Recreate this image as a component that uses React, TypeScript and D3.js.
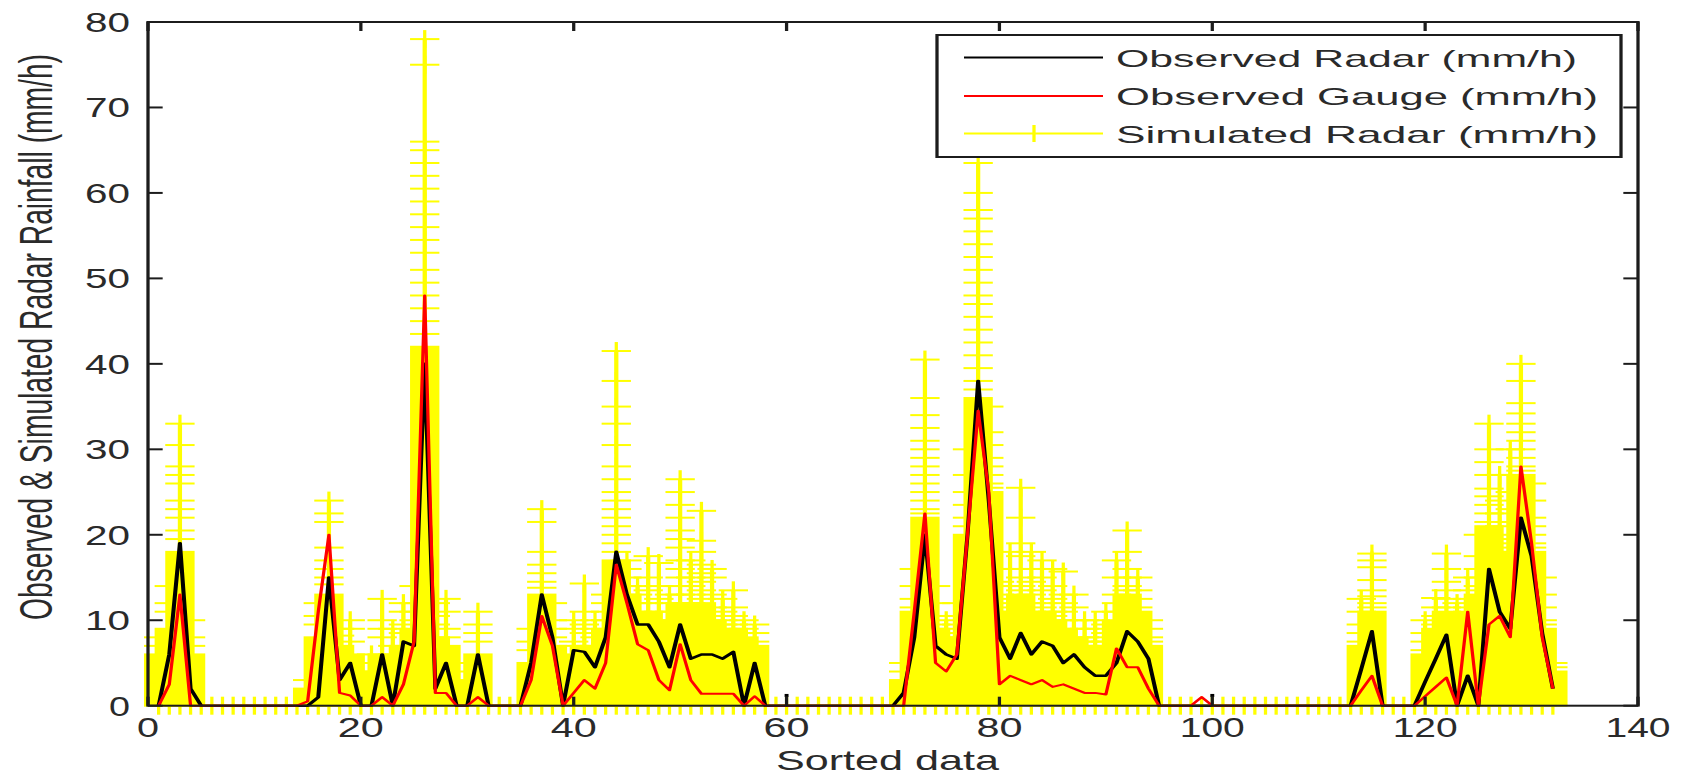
import React from 'react';
import * as d3 from 'd3';

const WIDTH = 1682;
const HEIGHT = 775;
// the reference figure is stretched horizontally
const SX = 1.63;

const xTickValues = [0, 20, 40, 60, 80, 100, 120, 140];
const yTickValues = [0, 10, 20, 30, 40, 50, 60, 70, 80];
const legendLabels = ['Observed Radar (mm/h)', 'Observed Gauge (mm/h)', 'Simulated Radar (mm/h)'];
const xTitle = 'Sorted data';
const yTitle = 'Observed & Simulated Radar Rainfall (mm/h)';

// Observed radar (black), x = 1..132
const radar = [
  0, 6, 19, 2, 0, 0, 0, 0, 0, 0,
  0, 0, 0, 0, 0, 1, 15, 3, 5, 0,
  0, 6, 0, 7.5, 7, 40, 2, 5, 0, 0,
  6, 0, 0, 0, 0, 5, 13, 8, 0, 6.5,
  6.3, 4.5, 8, 18, 13, 9.5, 9.5, 7.5, 4.5, 9.5,
  5.5, 6, 6, 5.5, 6.3, 0, 5, 0, 0, 0,
  0, 0, 0, 0, 0, 0, 0, 0, 0, 0,
  1.5, 8, 20, 7, 6, 5.5, 20, 38, 24, 8,
  5.5, 8.5, 6, 7.5, 7, 5, 6, 4.5, 3.5, 3.5,
  5, 8.7, 7.5, 5.5, 0, 0, 0, 0, 0, 0,
  0, 0, 0, 0, 0, 0, 0, 0, 0, 0,
  0, 0, 0, 4.3, 8.7, 0, 0, 0, 0, 2.8,
  5.5, 8.3, 0, 3.5, 0, 16, 11, 9, 22, 17.5,
  8.5, 2,
];

// Observed gauge (red), x = 1..132
const gauge = [
  0, 2.5, 13, 0, 0, 0, 0, 0, 0, 0,
  0, 0, 0, 0, 0.5, 11, 20, 1.5, 1.2, 0,
  0, 1, 0, 2.5, 7.5, 48, 1.5, 1.5, 0, 0,
  1, 0, 0, 0, 0, 3, 10.5, 7, 0, 1.5,
  3, 2, 5, 16.5, 12, 7.2, 6.5, 3, 1.8, 7.2,
  3, 1.4, 1.4, 1.4, 1.4, 0, 1.1, 0, 0, 0,
  0, 0, 0, 0, 0, 0, 0, 0, 0, 0,
  0, 11, 22.5, 5, 4, 6, 20, 34.5, 25, 2.5,
  3.5, 3, 2.5, 3, 2.2, 2.5, 2, 1.5, 1.5, 1.3,
  6.7, 4.5, 4.5, 2, 0, 0, 0, 0, 1, 0,
  0, 0, 0, 0, 0, 0, 0, 0, 0, 0,
  0, 0, 0, 1.8, 3.5, 0, 0, 0, 0, 1.1,
  2.2, 3.3, 0, 11, 0, 9.5, 10.5, 8, 28, 19,
  8, 2,
];

// isolated radar points [x, value]
const radarIsolated = [[60, 1.2], [100, 1.2]];

// Simulated radar ensemble: top of the dense (solid) part per x
const simBand = [
  6, 9, 18, 6, 0, 0, 0, 0, 0, 0,
  0, 0, 0, 0, 2, 8, 13, 7, 6, 3,
  4, 6, 5, 7, 9, 42, 8, 7, 3, 0,
  6, 0, 0, 0, 0, 5, 13, 7, 2, 6,
  7, 7, 9, 17, 13, 11, 11, 10, 10, 12,
  12, 12, 10, 9, 9, 8, 7, 0, 0, 0,
  0, 0, 0, 0, 0, 0, 0, 0, 0, 0,
  3, 11, 22, 9, 7, 8, 20, 36, 25, 11,
  11, 13, 11, 11, 10, 9, 8, 7, 7, 7,
  10, 13, 11, 7, 0, 0, 0, 0, 0, 0,
  0, 0, 0, 0, 0, 0, 0, 0, 0, 0,
  0, 0, 0, 7, 11, 0, 0, 0, 0, 6,
  9, 11, 8, 11, 13, 21, 18, 18, 27, 18,
  9, 4,
];

// Simulated radar ensemble members standing out above the dense part, per x
const simUpper: number[][] = [
  [8, 7], [14, 12, 11], [33, 30.5, 28, 27, 26, 24, 23, 22, 20.5, 19.5], [10, 8, 7], [], [], [], [], [], [],
  [], [], [], [], [3], [12, 10.5, 9.5], [24, 22.5, 21.5, 18.5, 17, 16, 15, 14.2], [9, 8.2], [10, 9, 7.5], [5, 4],
  [6, 5], [12.5, 10, 9, 8], [9, 7, 6], [12, 11, 9.5, 8.5], [14, 12, 11, 10], [78, 75, 66, 65, 63.5, 62, 60.5, 59, 57.5, 56, 54.5, 53, 51, 49.5, 48, 46.5, 45, 43.5], [12, 10.5, 9.5], [12.5, 11, 9, 8], [5, 4], [],
  [11, 9.5, 8.5, 7.5], [], [], [], [], [9, 7.5, 6.5], [23, 21.5, 18, 16.5, 15.5, 14.5, 13.8], [12, 10, 9, 8], [4, 3], [10, 9, 7.5, 7],
  [14.3, 11, 9.5, 8.5], [10, 9, 8], [13, 12, 11, 10], [41.5, 38, 35, 33, 30.5, 28, 26.5, 25, 24, 23, 22, 21, 20, 19, 18], [17, 16, 15, 14], [14, 13, 12], [17.5, 15, 13.5, 12], [16.7, 14, 12.5, 11], [13, 12, 11], [26.5, 25, 23.5, 22, 20.5, 19.5, 18.5, 17, 16, 15, 14, 13],
  [17, 15, 14, 13], [22.8, 19.3, 18, 16.5, 15.5, 14.5, 13.5, 12.5], [16, 15, 13, 11.5, 10.5], [12.5, 11, 10, 9.5], [13.5, 11.5, 10.5, 9.5], [10, 9, 8.5], [9.5, 8.5, 7.5], [], [], [],
  [], [], [], [], [], [], [], [], [], [],
  [5, 4], [16, 14, 12.5, 11.5], [40.5, 36, 34, 32.5, 31, 30, 29, 28, 27, 26, 25, 24, 23, 22.5], [14, 12, 10.5, 9.5], [10, 9, 8], [12, 10.5, 9.5, 8.5], [30, 27, 25, 23.5, 22, 21], [63.5, 60, 58, 57, 55.5, 54, 52.5, 51, 49.5, 48, 47, 45.5, 44, 42.5, 41, 39.5, 38, 37], [35, 32, 30.5, 29, 28, 27, 26, 25.5], [16, 14.5, 13, 12],
  [18, 16, 14, 12.5, 11.5], [25.5, 22, 19, 17.5, 16, 15, 14, 13.5], [18, 16, 14.5, 13, 12], [17, 15, 13.5, 12, 11.5], [16, 14, 12.5, 11, 10.5], [15.7, 13, 12, 11, 10], [13, 11.5, 10, 9], [10, 9, 8, 7.5], [10, 9, 8, 7.5], [11, 9.5, 8.5, 7.5],
  [17, 15, 13, 12, 11], [20.5, 18, 16, 15, 14, 13.5], [15, 13.5, 12.5, 11.5], [10, 9, 8, 7.5], [], [], [], [], [], [],
  [], [], [], [], [], [], [], [], [], [],
  [], [], [], [12.5, 11, 9.5, 8.5, 7.5], [17.8, 17, 16.2, 14.7, 13.5, 12.8, 12, 11.5], [], [], [], [], [10, 8.5, 7.5, 6.5],
  [12.6, 11.5, 10.5, 9.5], [17.8, 16, 14.5, 13.5, 12.5, 11.5], [12, 10.5, 9.5, 8.5], [15, 13.5, 12.5, 11.5], [20, 17.5, 16, 15, 14], [33, 30, 28.5, 27, 25.4, 24.5, 23.5, 22.5, 21.5], [27, 24, 22.5, 21, 19.5, 18.5], [30, 27, 25, 23, 21.5, 20, 19], [40, 38, 35.4, 34.2, 33, 32, 31, 30, 29, 28, 27.5], [26, 24, 22, 21, 20, 19, 18.5],
  [15, 13, 11.5, 10, 9.5], [5, 4.5],
];

const YELLOW = '#ffff00';
const AXIS = '#1c1c1c';
const TEXT = '#2a2a2a';
const FONT = '"Liberation Sans", Arial, Helvetica, sans-serif';

export default function App() {
  const xs = d3.scaleLinear().domain([0, 140]).range([148 / SX, 1638 / SX]);
  const ys = d3.scaleLinear().domain([0, 80]).range([705.7, 22]);
  const MS = 9; // marker half size (pre-stretch units)

  const lineGen = d3
    .line<number>()
    .x((_, i) => xs(i + 1))
    .y((d) => ys(d));

  const xL = xs(0);
  const xR = xs(140);
  const yB = ys(0);
  const yT = ys(80);

  const digitW = (s: string) => (s.length === 1 ? 22 : s.length === 2 ? 46 : 65);

  const yellow: React.ReactNode[] = [];
  // dense bands
  simBand.forEach((b, i) => {
    const cx = xs(i + 1);
    if (b > 0) {
      yellow.push(
        <rect key={`b${i}`} x={cx - MS} y={ys(b) - 1} width={2 * MS} height={yB - ys(b) + 1} fill={YELLOW} />
      );
    }
  });
  // vertical member spread + markers
  simUpper.forEach((vals, i) => {
    const cx = xs(i + 1);
    const top = Math.max(simBand[i], ...(vals.length ? vals : [0]));
    if (top > 0) {
      yellow.push(
        <line key={`v${i}`} x1={cx} x2={cx} y1={yB} y2={ys(top)} stroke={YELLOW} strokeWidth={2.6} />
      );
    }
    const marks = [0, ...vals];
    marks.forEach((v, j) => {
      const cy = ys(v);
      yellow.push(
        <g key={`m${i}_${j}`} stroke={YELLOW} strokeWidth={2}>
          <line x1={cx - MS} x2={cx + MS} y1={cy} y2={cy} />
          <line x1={cx} x2={cx} y1={cy - MS} y2={cy + MS} />
        </g>
      );
    });
  });

  const legendX0 = 937 / SX;
  const legendX1 = 1621 / SX;
  const legendRows = [57.5, 96, 133.5];
  const sampleX0 = 964 / SX;
  const sampleX1 = 1103 / SX;
  const sampleMid = 1034 / SX;
  const legendColors = ['#000000', '#ff0000', YELLOW];
  const legendWidths = [461, 482, 482];

  return (
    <svg
      width={WIDTH}
      height={HEIGHT}
      viewBox={`0 0 ${WIDTH} ${HEIGHT}`}
      style={{ position: 'absolute', left: 0, top: 0, background: '#fff', display: 'block' }}
      fontFamily={FONT}
    >
      <rect x={0} y={0} width={WIDTH} height={HEIGHT} fill="#ffffff" />
      <g transform={`scale(${SX},1)`}>
        {yellow}
        <path d={lineGen(radar) || ''} fill="none" stroke="#000" strokeWidth={2.5} strokeLinejoin="round" />
        {radarIsolated.map(([x, v], i) => (
          <rect key={`iso${i}`} x={xs(x) - 1.2} y={ys(v) - 1.5} width={2.4} height={3} fill="#000" />
        ))}
        <path d={lineGen(gauge) || ''} fill="none" stroke="#ff0000" strokeWidth={2} strokeLinejoin="round" />

        {/* axes box */}
        <rect x={xL} y={yT} width={xR - xL} height={yB - yT} fill="none" stroke={AXIS} strokeWidth={2} />
        {yTickValues.map((v) => (
          <g key={`yt${v}`} stroke={AXIS} strokeWidth={2}>
            <line x1={xL} x2={xL + MS} y1={ys(v)} y2={ys(v)} />
            <line x1={xR - MS} x2={xR} y1={ys(v)} y2={ys(v)} />
          </g>
        ))}
        {xTickValues.map((v) => (
          <g key={`xt${v}`} stroke={AXIS} strokeWidth={2}>
            <line x1={xs(v)} x2={xs(v)} y1={yB} y2={yB - MS} />
            <line x1={xs(v)} x2={xs(v)} y1={yT} y2={yT + MS} />
          </g>
        ))}

        {/* legend */}
        <rect
          x={legendX0}
          y={35}
          width={legendX1 - legendX0}
          height={122}
          fill="#fff"
          stroke={AXIS}
          strokeWidth={2}
        />
        {legendRows.map((ly, i) => (
          <g key={`lg${i}`}>
            <line x1={sampleX0} x2={sampleX1} y1={ly} y2={ly} stroke={legendColors[i]} strokeWidth={2} />
            {i === 2 && (
              <line x1={sampleMid} x2={sampleMid} y1={ly - 8.5} y2={ly + 8.5} stroke={YELLOW} strokeWidth={2} />
            )}
          </g>
        ))}
      </g>

      {/* legend text */}
      {legendLabels.map((t, i) => (
        <text
          key={`lt${i}`}
          x={1116}
          y={legendRows[i] + 9}
          fontSize={24}
          fill={TEXT}
          textLength={legendWidths[i]}
          lengthAdjust="spacingAndGlyphs"
        >
          {t}
        </text>
      ))}

      {/* y tick labels */}
      {yTickValues.map((v) => {
        const s = String(v);
        const w = s.length === 1 ? 21 : 45;
        return (
          <text
            key={`yl${v}`}
            x={130 - w}
            y={ys(v) + 10}
            fontSize={28}
            fill={TEXT}
            textLength={w}
            lengthAdjust="spacingAndGlyphs"
          >
            {s}
          </text>
        );
      })}

      {/* x tick labels */}
      {xTickValues.map((v) => {
        const s = String(v);
        const w = digitW(s);
        return (
          <text
            key={`xl${v}`}
            x={xs(v) * SX - w / 2}
            y={737}
            fontSize={28}
            fill={TEXT}
            textLength={w}
            lengthAdjust="spacingAndGlyphs"
          >
            {s}
          </text>
        );
      })}

      {/* axis titles */}
      <text x={776} y={770} fontSize={28} fill={TEXT} textLength={223} lengthAdjust="spacingAndGlyphs">
        {xTitle}
      </text>
      <g transform={`translate(52,337) scale(${SX},1) rotate(-90)`}>
        <text
          x={-283}
          y={0}
          fontSize={28}
          fill={TEXT}
          textLength={566}
          lengthAdjust="spacingAndGlyphs"
        >
          {yTitle}
        </text>
      </g>
    </svg>
  );
}
